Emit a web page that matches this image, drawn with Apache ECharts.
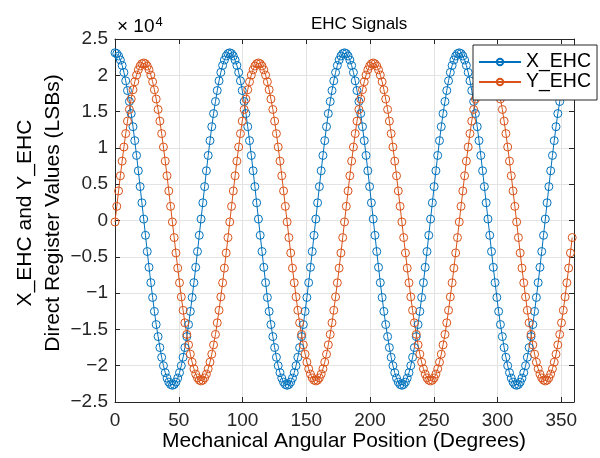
<!DOCTYPE html>
<html>
<head>
<meta charset="utf-8">
<script src="https://cdn.jsdelivr.net/npm/echarts@6/dist/echarts.min.js"></script>
<style>html,body{margin:0;padding:0;background:#fff}#c{width:600px;height:458px}</style>
</head>
<body>
<div id="c"></div>
<script>
const titleText = 'EHC Signals';
const xLabel = 'Mechanical Angular Position (Degrees)';
const yLabelLines = ['X_EHC and Y_EHC', 'Direct Register Values (LSBs)'];
const seriesNames = ['X_EHC', 'Y_EHC'];

const angles = [
0,1.4,2.8,4.2,5.6,7,8.4,9.8,11.3,12.7,14.1,15.5,16.9,18.3,19.7,21.1,22.5,23.9,25.3,26.7,28.1,29.5,30.9,32.3,33.8,35.2,36.6,38,39.4,40.8,42.2,43.6,
45,46.4,47.8,49.2,50.6,52,53.4,54.8,56.3,57.7,59.1,60.5,61.9,63.3,64.7,66.1,67.5,68.9,70.3,71.7,73.1,74.5,75.9,77.3,78.8,80.2,81.6,83,84.4,85.8,87.2,88.6,
90,91.4,92.8,94.2,95.6,97,98.4,99.8,101.3,102.7,104.1,105.5,106.9,108.3,109.7,111.1,112.5,113.9,115.3,116.7,118.1,119.5,120.9,122.3,123.8,125.2,126.6,128,129.4,130.8,132.2,133.6,
135,136.4,137.8,139.2,140.6,142,143.4,144.8,146.3,147.7,149.1,150.5,151.9,153.3,154.7,156.1,157.5,158.9,160.3,161.7,163.1,164.5,165.9,167.3,168.8,170.2,171.6,173,174.4,175.8,177.2,178.6,
180,181.4,182.8,184.2,185.6,187,188.4,189.8,191.3,192.7,194.1,195.5,196.9,198.3,199.7,201.1,202.5,203.9,205.3,206.7,208.1,209.5,210.9,212.3,213.8,215.2,216.6,218,219.4,220.8,222.2,223.6,
225,226.4,227.8,229.2,230.6,232,233.4,234.8,236.3,237.7,239.1,240.5,241.9,243.3,244.7,246.1,247.5,248.9,250.3,251.7,253.1,254.5,255.9,257.3,258.8,260.2,261.6,263,264.4,265.8,267.2,268.6,
270,271.4,272.8,274.2,275.6,277,278.4,279.8,281.3,282.7,284.1,285.5,286.9,288.3,289.7,291.1,292.5,293.9,295.3,296.7,298.1,299.5,300.9,302.3,303.8,305.2,306.6,308,309.4,310.8,312.2,313.6,
315,316.4,317.8,319.2,320.6,322,323.4,324.8,326.3,327.7,329.1,330.5,331.9,333.3,334.7,336.1,337.5,338.9,340.3,341.7,343.1,344.5,345.9,347.3,348.8,350.2,351.6,353,354.4,355.8,357.2,358.6
];

const xEHC = [
23100,22990,22660,22110,21360,20400,19240,17900,16390,14730,12920,11000,8960,6850,4670,2440,200,-2040,-4270,-6450,-8560,-10600,-12520,-14330,-15990,-17500,-18840,-20000,-20960,-21710,-22260,-22590,
-22700,-22590,-22260,-21710,-20960,-20000,-18840,-17500,-15990,-14330,-12520,-10600,-8560,-6450,-4270,-2040,200,2440,4670,6850,8960,11000,12920,14730,16390,17900,19240,20400,21360,22110,22660,22990,
23100,22990,22660,22110,21360,20400,19240,17900,16390,14730,12920,11000,8960,6850,4670,2440,200,-2040,-4270,-6450,-8560,-10600,-12520,-14330,-15990,-17500,-18840,-20000,-20960,-21710,-22260,-22590,
-22700,-22590,-22260,-21710,-20960,-20000,-18840,-17500,-15990,-14330,-12520,-10600,-8560,-6450,-4270,-2040,200,2440,4670,6850,8960,11000,12920,14730,16390,17900,19240,20400,21360,22110,22660,22990,
23100,22990,22660,22110,21360,20400,19240,17900,16390,14730,12920,11000,8960,6850,4670,2440,200,-2040,-4270,-6450,-8560,-10600,-12520,-14330,-15990,-17500,-18840,-20000,-20960,-21710,-22260,-22590,
-22700,-22590,-22260,-21710,-20960,-20000,-18840,-17500,-15990,-14330,-12520,-10600,-8560,-6450,-4270,-2040,200,2440,4670,6850,8960,11000,12920,14730,16390,17900,19240,20400,21360,22110,22660,22990,
23100,22990,22660,22110,21360,20400,19240,17900,16390,14730,12920,11000,8960,6850,4670,2440,200,-2040,-4270,-6450,-8560,-10600,-12520,-14330,-15990,-17500,-18840,-20000,-20960,-21710,-22260,-22590,
-22700,-22590,-22260,-21710,-20960,-20000,-18840,-17500,-15990,-14330,-12520,-10600,-8560,-6450,-4270,-2040,200,2440,4670,6850,8960,11000,12920,14730,16390,17900,19240,20400,21360,22110,22660,22990
];

const yEHC = [
-200,1950,4070,6160,8180,10120,11970,13690,15290,16730,18010,19110,20030,20760,21280,21590,21700,21590,21280,20760,20030,19110,18010,16730,15290,13690,11970,10120,8180,6160,4070,1950,
-200,-2350,-4470,-6560,-8580,-10520,-12370,-14090,-15690,-17130,-18410,-19510,-20430,-21160,-21680,-21990,-22100,-21990,-21680,-21160,-20430,-19510,-18410,-17130,-15690,-14090,-12370,-10520,-8580,-6560,-4470,-2350,
-200,1950,4070,6160,8180,10120,11970,13690,15290,16730,18010,19110,20030,20760,21280,21590,21700,21590,21280,20760,20030,19110,18010,16730,15290,13690,11970,10120,8180,6160,4070,1950,
-200,-2350,-4470,-6560,-8580,-10520,-12370,-14090,-15690,-17130,-18410,-19510,-20430,-21160,-21680,-21990,-22100,-21990,-21680,-21160,-20430,-19510,-18410,-17130,-15690,-14090,-12370,-10520,-8580,-6560,-4470,-2350,
-200,1950,4070,6160,8180,10120,11970,13690,15290,16730,18010,19110,20030,20760,21280,21590,21700,21590,21280,20760,20030,19110,18010,16730,15290,13690,11970,10120,8180,6160,4070,1950,
-200,-2350,-4470,-6560,-8580,-10520,-12370,-14090,-15690,-17130,-18410,-19510,-20430,-21160,-21680,-21990,-22100,-21990,-21680,-21160,-20430,-19510,-18410,-17130,-15690,-14090,-12370,-10520,-8580,-6560,-4470,-2350,
-200,1950,4070,6160,8180,10120,11970,13690,15290,16730,18010,19110,20030,20760,21280,21590,21700,21590,21280,20760,20030,19110,18010,16730,15290,13690,11970,10120,8180,6160,4070,1950,
-200,-2350,-4470,-6560,-8580,-10520,-12370,-14090,-15690,-17130,-18410,-19510,-20430,-21160,-21680,-21990,-22100,-21990,-21680,-21160,-20430,-19510,-18410,-17130,-15690,-14090,-12370,-10520,-8580,-6560,-4470,-2350
];

const FONT = '"Liberation Sans", Arial, Helvetica, sans-serif';
const AX = '#262626';
const colors = ['#0072BD', '#D95319'];

function pairs(xs, ys) { return xs.map((x, i) => [x, ys[i]]); }

const chart = echarts.init(document.getElementById('c'), null, {renderer: 'canvas'});
const axisCommon = {
  axisLine: {show: true, onZero: false, lineStyle: {color: AX, width: 1}},
  axisTick: {show: true, inside: true, length: 5, lineStyle: {color: AX}},
  splitLine: {show: true, lineStyle: {color: '#e3e3e3', width: 1}}
};
function txt(x, y, text, size, rot) {
  const o = {type: 'text', x: x, y: y, style: {text: text, fontSize: size, fontFamily: FONT, fill: '#000', textAlign: 'center', textVerticalAlign: 'middle'}};
  if (rot) o.rotation = rot;
  return o;
}
function seriesOf(i, ys) {
  return {name: seriesNames[i], type: 'line', xAxisIndex: 0, yAxisIndex: 0, data: pairs(angles, ys),
    symbol: 'circle', symbolSize: 8, showAllSymbol: true, color: colors[i],
    lineStyle: {width: 1, color: colors[i]},
    itemStyle: {color: 'rgba(255,255,255,0)', borderColor: colors[i], borderWidth: 1},
    emphasis: {disabled: true}};
}
chart.setOption({
  animation: false,
  backgroundColor: '#fff',
  textStyle: {fontFamily: FONT},
  title: {show: true, text: titleText, left: 311, top: 16, padding: 0,
    textStyle: {fontSize: 17, fontWeight: 'normal', color: '#000', fontFamily: FONT}},
  grid: {left: 115, right: 26, top: 39, bottom: 56, containLabel: false},
  xAxis: [
    Object.assign({type: 'value', min: 0, max: 360, interval: 50, position: 'bottom',
      axisLabel: {show: true, color: AX, fontSize: 19, fontFamily: FONT, margin: 9, showMaxLabel: false}}, axisCommon),
    Object.assign({type: 'value', min: 0, max: 360, interval: 50, position: 'top',
      axisLabel: {show: false}}, axisCommon, {splitLine: {show: false}})
  ],
  yAxis: [
    Object.assign({type: 'value', min: -25000, max: 25000, interval: 5000, position: 'left',
      axisLabel: {show: true, color: AX, fontSize: 19, fontFamily: FONT, margin: 7,
        formatter: v => { const s = String(Math.abs(v) / 10000); return v < 0 ? '\u2212' + s : s; }}}, axisCommon),
    Object.assign({type: 'value', min: -25000, max: 25000, interval: 5000, position: 'right',
      axisLabel: {show: false}}, axisCommon, {splitLine: {show: false}})
  ],
  legend: {
    show: true, orient: 'vertical', left: 473, top: 45,
    data: seriesNames,
    backgroundColor: '#fff', borderColor: AX, borderWidth: 1, borderRadius: 0,
    padding: [7, 6, 8, 5], itemGap: 0, itemWidth: 42, itemHeight: 8,
    textStyle: {fontSize: 19.5, color: '#000', fontFamily: FONT, lineHeight: 18}
  },
  graphic: [
    txt(344, 441, xLabel, 21),
    txt(25, 213, yLabelLines[0], 21, Math.PI / 2),
    txt(53, 213, yLabelLines[1], 21, Math.PI / 2),
    {type: 'text', x: 117, y: 27, style: {
      text: '{a|\u00d7 10}{b|4}', textVerticalAlign: 'middle', textAlign: 'left',
      rich: {a: {fontSize: 19, fontFamily: FONT, color: '#000'},
             b: {fontSize: 13, fontFamily: FONT, color: '#000', verticalAlign: 'top', padding: [0, 0, 10, 1]}}
    }}
  ],
  series: [seriesOf(0, xEHC), seriesOf(1, yEHC)]
});
</script>
</body>
</html>
